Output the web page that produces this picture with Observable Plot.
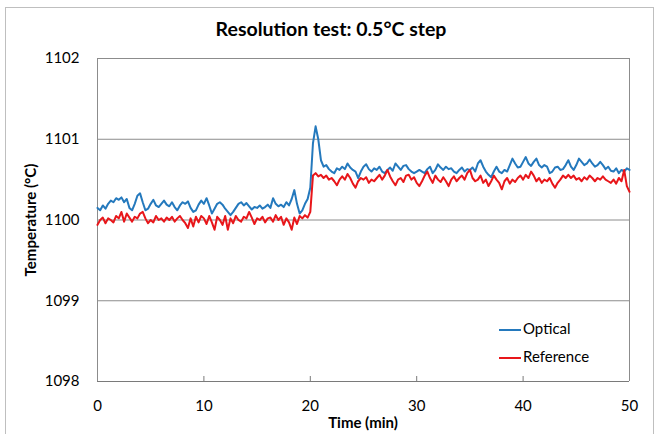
<!DOCTYPE html>
<html>
<head>
<meta charset="utf-8">
<script src="https://cdn.jsdelivr.net/npm/d3@7"></script>
<script src="https://cdn.jsdelivr.net/npm/@observablehq/plot@0.6"></script>
<style>
  html, body { margin: 0; padding: 0; background: #fff; }
  #wrap { position: relative; width: 662px; height: 434px; overflow: hidden; font-family: Lato, "Open Sans", sans-serif; }
  #frame { position: absolute; left: 5px; top: 7px; width: 649px; height: 440px; border: 1px solid #bfbfbf; box-sizing: border-box; }
  #title { position: absolute; left: 0; width: 662px; top: 17px; text-align: center; font-weight: bold; font-size: 19.5px; color: #000; }
  #xlabel { position: absolute; left: 97px; width: 532px; top: 413px; text-align: center; font-weight: bold; font-size: 15px; }
  #ylabel { position: absolute; left: 30px; top: 220px; transform: translate(-50%, -50%) rotate(-90deg); white-space: nowrap; font-weight: bold; font-size: 15px; }
  #legend { position: absolute; left: 499px; top: 314px; font-size: 15px; line-height: 28px; }
  #legend .sw { display: inline-block; width: 22px; height: 2px; vertical-align: middle; margin-right: 2px; }
  #chart { position: absolute; left: 0; top: 0; }
</style>
</head>
<body>
<div id="wrap">
  <div id="frame"></div>
  <div id="chart"></div>
  <div id="title"></div>
  <div id="xlabel"></div>
  <div id="ylabel"></div>
  <div id="legend"></div>
</div>
<script>
const titleText = "Resolution test: 0.5°C step";
const xLabel = "Time (min)";
const yLabel = "Temperature (°C)";
const seriesNames = ["Optical", "Reference"];
const seriesColors = ["#2479bd", "#e8161a"];
const xTicks = [0, 10, 20, 30, 40, 50];
const yTicks = [1098, 1099, 1100, 1101, 1102];
const sampleStep = 0.25; // minutes between samples

const optical = [
  1100.15, 1100.12, 1100.18, 1100.14, 1100.20,
  1100.24, 1100.22, 1100.27, 1100.25,
  1100.28, 1100.22, 1100.26, 1100.15,
  1100.12, 1100.20, 1100.30, 1100.33,
  1100.22, 1100.12, 1100.14, 1100.20,
  1100.25, 1100.18, 1100.16, 1100.20,
  1100.24, 1100.19, 1100.17, 1100.22,
  1100.16, 1100.12, 1100.18, 1100.22,
  1100.20, 1100.23, 1100.15, 1100.10,
  1100.12, 1100.19, 1100.24, 1100.20,
  1100.27, 1100.18, 1100.08, 1100.14,
  1100.20, 1100.22, 1100.19, 1100.14,
  1100.10, 1100.06, 1100.10, 1100.15,
  1100.20, 1100.22, 1100.18, 1100.21,
  1100.17, 1100.13, 1100.16, 1100.15,
  1100.18, 1100.14, 1100.16, 1100.19,
  1100.15, 1100.27, 1100.20, 1100.17,
  1100.19, 1100.16, 1100.22, 1100.18,
  1100.26, 1100.37, 1100.20, 1100.08,
  1100.12, 1100.20, 1100.26, 1100.40,
  1100.95, 1101.16, 1101.00, 1100.74,
  1100.66, 1100.68, 1100.63, 1100.60,
  1100.58, 1100.64, 1100.62, 1100.66,
  1100.63, 1100.70, 1100.65, 1100.62,
  1100.60, 1100.52, 1100.60, 1100.66,
  1100.69, 1100.63, 1100.60, 1100.64,
  1100.62, 1100.66, 1100.60, 1100.58,
  1100.62, 1100.65, 1100.61, 1100.70,
  1100.66, 1100.62, 1100.67, 1100.68,
  1100.63, 1100.60, 1100.58, 1100.60,
  1100.62, 1100.60, 1100.58, 1100.63,
  1100.66, 1100.58, 1100.62, 1100.69,
  1100.65, 1100.62, 1100.66, 1100.63,
  1100.64, 1100.60, 1100.58, 1100.62,
  1100.65, 1100.60, 1100.63, 1100.62,
  1100.65, 1100.60, 1100.70, 1100.74,
  1100.66, 1100.60, 1100.56, 1100.53,
  1100.60, 1100.66, 1100.60, 1100.58,
  1100.62, 1100.60, 1100.68, 1100.76,
  1100.70, 1100.65, 1100.66, 1100.72,
  1100.78, 1100.70, 1100.67, 1100.72,
  1100.76, 1100.68, 1100.65, 1100.68,
  1100.66, 1100.58, 1100.60, 1100.65,
  1100.66, 1100.62, 1100.63, 1100.68,
  1100.74, 1100.66, 1100.62, 1100.68,
  1100.76, 1100.72, 1100.68, 1100.70,
  1100.75, 1100.70, 1100.66, 1100.68,
  1100.72, 1100.68, 1100.63, 1100.66,
  1100.61, 1100.60, 1100.64, 1100.58,
  1100.62, 1100.60, 1100.64, 1100.62
];

const reference = [
  1099.94, 1100.00, 1100.03, 1099.96, 1100.02,
  1100.00, 1099.97, 1100.05, 1100.02,
  1100.10, 1099.98, 1100.08, 1100.03,
  1099.98, 1100.04, 1100.02, 1100.08,
  1100.10, 1100.02, 1099.96, 1100.00,
  1099.97, 1100.05, 1100.00, 1100.02,
  1099.98, 1100.03, 1100.00, 1100.04,
  1099.98, 1100.02, 1100.05, 1100.00,
  1099.96, 1099.90, 1100.02, 1099.92,
  1100.04, 1099.97, 1100.05, 1100.02,
  1099.95, 1100.05, 1099.97, 1099.88,
  1100.04, 1100.00, 1099.94, 1100.05,
  1099.88, 1100.02, 1099.96, 1100.05,
  1100.00, 1099.98, 1100.04, 1100.02,
  1100.10, 1100.03, 1099.95, 1100.02,
  1100.00, 1100.04, 1099.97, 1100.02,
  1100.03, 1099.98, 1100.06, 1100.00,
  1100.04, 1099.94, 1100.02, 1099.97,
  1099.88, 1100.03, 1099.95, 1100.05,
  1100.02, 1100.06, 1100.03, 1100.10,
  1100.55, 1100.58, 1100.54, 1100.56,
  1100.52, 1100.55, 1100.50, 1100.52,
  1100.48, 1100.43, 1100.50, 1100.54,
  1100.50, 1100.57, 1100.52, 1100.45,
  1100.40, 1100.48, 1100.52, 1100.50,
  1100.53, 1100.46, 1100.50, 1100.48,
  1100.52, 1100.56, 1100.50, 1100.55,
  1100.62, 1100.54, 1100.48, 1100.43,
  1100.50, 1100.52, 1100.47, 1100.55,
  1100.56, 1100.50, 1100.53, 1100.46,
  1100.42, 1100.48, 1100.55, 1100.60,
  1100.52, 1100.46, 1100.55, 1100.50,
  1100.47, 1100.53, 1100.48, 1100.42,
  1100.50, 1100.54, 1100.48, 1100.52,
  1100.55, 1100.50, 1100.58, 1100.62,
  1100.52, 1100.48, 1100.50, 1100.55,
  1100.46, 1100.50, 1100.42, 1100.48,
  1100.55, 1100.50, 1100.46, 1100.38,
  1100.48, 1100.52, 1100.45, 1100.50,
  1100.47, 1100.52, 1100.55, 1100.50,
  1100.56, 1100.52, 1100.60, 1100.55,
  1100.48, 1100.52, 1100.46, 1100.50,
  1100.48, 1100.52, 1100.45, 1100.40,
  1100.46, 1100.50, 1100.55, 1100.52,
  1100.56, 1100.52, 1100.55, 1100.50,
  1100.52, 1100.48, 1100.53, 1100.50,
  1100.55, 1100.52, 1100.48, 1100.52,
  1100.50, 1100.54, 1100.50, 1100.48,
  1100.46, 1100.50, 1100.45, 1100.52,
  1100.48, 1100.62, 1100.42, 1100.35
];

const rows = [];
optical.forEach((v, i) => rows.push({t: i * sampleStep, v, s: seriesNames[0]}));
reference.forEach((v, i) => rows.push({t: i * sampleStep, v, s: seriesNames[1]}));

const W = 662, H = 434, mL = 97, mR = 33, mT = 58, mB = 53;
const innerH = H - mT - mB;

const chart = Plot.plot({
  width: W, height: H,
  marginLeft: mL, marginRight: mR, marginTop: mT, marginBottom: mB,
  style: {fontFamily: "Lato, 'Open Sans', sans-serif", fontSize: "15px", background: "transparent", color: "#000"},
  x: {domain: [0, 50], ticks: xTicks},
  y: {domain: [1098, 1102], ticks: yTicks},
  color: {domain: seriesNames, range: seriesColors},
  marks: [
    Plot.ruleY(yTicks.slice(1), {stroke: "#8c8c8c", strokeWidth: 1}),
    Plot.ruleX([xTicks[0], xTicks[xTicks.length - 1]], {stroke: "#8c8c8c", strokeWidth: 1}),
    Plot.ruleY([yTicks[0]], {stroke: "#7a7a7a", strokeWidth: 1.2}),
    Plot.ruleX(xTicks.slice(1, -1), {stroke: "#7a7a7a", strokeWidth: 1, insetTop: innerH - 5}),
    Plot.line(rows, {x: "t", y: "v", z: "s", stroke: "s", strokeWidth: 2}),
    Plot.axisX({ticks: xTicks, tickFormat: d => String(d), tickSize: 0, tickPadding: 19, label: null, fontSize: 15}),
    Plot.axisY({ticks: yTicks, tickFormat: d => String(d), tickSize: 0, tickPadding: 18, label: null, fontSize: 15})
  ]
});
document.getElementById("chart").append(chart);
document.getElementById("title").textContent = titleText;
document.getElementById("xlabel").textContent = xLabel;
document.getElementById("ylabel").textContent = yLabel;
const legend = document.getElementById("legend");
seriesNames.forEach((n, i) => {
  const row = document.createElement("div");
  const sw = document.createElement("span");
  sw.className = "sw";
  sw.style.background = seriesColors[i];
  row.append(sw, document.createTextNode(n));
  legend.append(row);
});
</script>
</body>
</html>
